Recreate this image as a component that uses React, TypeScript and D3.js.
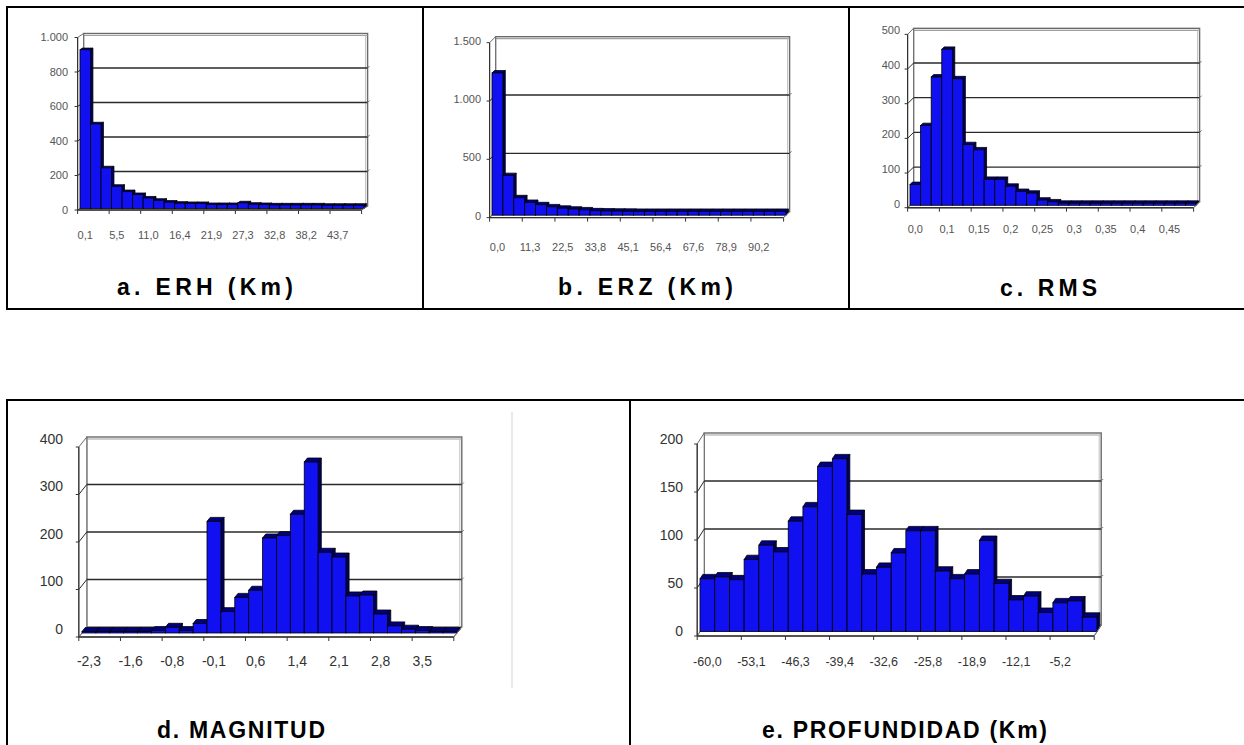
import React from "react";
import * as d3 from "d3";

// ---------- DATA ----------
const erhValues = [920, 490, 235, 128, 97, 80, 60, 47, 36, 30, 28, 28, 22, 22, 22, 32, 24, 22, 20, 20, 20, 20, 20, 18, 18, 18, 18];
const erhLabels = ["0,1", "5,5", "11,0", "16,4", "21,9", "27,3", "32,8", "38,2", "43,7"];
const erhTicks = [0, 200, 400, 600, 800, 1000];

const erzValues = [1220, 340, 150, 110, 90, 72, 60, 52, 46, 38, 36, 35, 34, 33, 33, 33, 33, 33, 33, 33, 33, 33, 33, 33, 33, 33, 33];
const erzLabels = ["0,0", "11,3", "22,5", "33,8", "45,1", "56,4", "67,6", "78,9", "90,2"];
const erzTicks = [0, 500, 1000, 1500];

const rmsValues = [60, 230, 370, 450, 365, 175, 160, 75, 75, 55, 40, 35, 15, 10, 6, 6, 6, 6, 6, 6, 6, 6, 6, 6, 6, 6, 6];
const rmsLabels = ["0,0", "0,1", "0,15", "0,2", "0,25", "0,3", "0,35", "0,4", "0,45"];
const rmsTicks = [0, 100, 200, 300, 400, 500];

const magValues = [3, 3, 3, 3, 3, 5, 12, 5, 20, 235, 45, 75, 90, 200, 205, 250, 360, 170, 160, 78, 80, 40, 15, 8, 5, 3, 3];
const magLabels = ["-2,3", "-1,6", "-0,8", "-0,1", "0,6", "1,4", "2,1", "2,8", "3,5"];
const magTicks = [0, 100, 200, 300, 400];

const profValues = [55, 57, 54, 75, 90, 83, 115, 130, 172, 180, 122, 60, 67, 82, 105, 105, 63, 55, 60, 95, 50, 33, 37, 20, 30, 32, 15];
const profLabels = ["-60,0", "-53,1", "-46,3", "-39,4", "-32,6", "-25,8", "-18,9", "-12,1", "-5,2"];
const profTicks = [0, 50, 100, 150, 200];

const titles = ["a. ERH (Km)", "b. ERZ (Km)", "c. RMS", "d. MAGNITUD", "e. PROFUNDIDAD (Km)"];

// ---------- COMPONENTS ----------
const FONT = "Arial, 'Liberation Sans', sans-serif";

function fmtTick(v: number) {
  return v >= 1000 ? d3.format(",")(v).replace(/,/g, ".") : String(v);
}

type PanelProps = {
  values: number[];
  labels: string[];
  ticks: number[];
  fx0: number;
  fx1: number;
  y0: number;
  k: number;
  dx: number;
  dy: number;
  labelRight: number;
  labelOffset: number;
  xLabelY: number;
  yFont: number;
  xFont: number;
  textColor: string;
  floorFill?: string;
};

function Panel(p: PanelProps) {
  const n = p.values.length;
  const max = p.ticks[p.ticks.length - 1];
  const x = d3.scaleBand<number>().domain(d3.range(n)).range([p.fx0, p.fx1]).padding(0);
  const y = d3.scaleLinear().domain([0, max]).range([p.y0, p.y0 - max * p.k]);
  const bw = x.bandwidth();
  const { dx, dy } = p;
  const yTop = y(max);
  const ox = dx * 0.4;
  const oy = dy * 0.4;
  const wallStroke = "#6a6a6a";

  return (
    <g>
      {/* floor */}
      <polygon
        points={`${p.fx0},${p.y0 + dy} ${p.fx1},${p.y0 + dy} ${p.fx1 + dx},${p.y0} ${p.fx0 + dx},${p.y0}`}
        fill={p.floorFill || "#fff"}
        stroke={wallStroke}
        strokeWidth={1}
      />
      {/* back wall */}
      <rect x={p.fx0 + dx} y={yTop} width={p.fx1 - p.fx0} height={p.y0 - yTop} fill="#fff" stroke={wallStroke} strokeWidth={1.4} />
      <line x1={p.fx0 + dx} x2={p.fx1 + dx} y1={yTop + 2} y2={yTop + 2} stroke="#a0a0a0" strokeWidth={1.2} />
      <line x1={p.fx1 + dx - 2} x2={p.fx1 + dx - 2} y1={yTop + 2} y2={p.y0} stroke="#c0c0c0" strokeWidth={1} />
      {/* left wall */}
      <polygon
        points={`${p.fx0},${p.y0 + dy} ${p.fx0},${yTop + dy} ${p.fx0 + dx},${yTop} ${p.fx0 + dx},${p.y0}`}
        fill="#fff"
        stroke={wallStroke}
        strokeWidth={1}
      />
      {/* gridlines */}
      {p.ticks.slice(1, -1).map((t) => (
        <g key={"g" + t}>
          <line x1={p.fx0 + dx} x2={p.fx1 + dx} y1={y(t)} y2={y(t)} stroke="#2a2a2a" strokeWidth={1.3} />
          <line x1={p.fx0} x2={p.fx0 + dx} y1={y(t) + dy} y2={y(t)} stroke="#2a2a2a" strokeWidth={1} />
          <line x1={p.fx1 + dx} x2={p.fx1 + dx + 2} y1={y(t)} y2={y(t) - 2} stroke="#777" strokeWidth={1} />
        </g>
      ))}
      {/* bars */}
      {p.values.map((v, i) => {
        const bx = (x(i) as number) + ox;
        const top = y(v) + dy * 0.6;
        const bottom = p.y0 + dy * 0.6;
        return (
          <g key={"b" + i}>
            <polygon
              points={`${bx + bw},${top} ${bx + bw + ox},${top - oy} ${bx + bw + ox},${bottom - oy} ${bx + bw},${bottom}`}
              fill="#000060"
              stroke="#000"
              strokeWidth={0.8}
            />
            <polygon
              points={`${bx},${top} ${bx + bw},${top} ${bx + bw + ox},${top - oy} ${bx + ox},${top - oy}`}
              fill="#000080"
              stroke="#000"
              strokeWidth={0.8}
            />
            <rect x={bx} y={top} width={bw} height={bottom - top} fill="#1010f0" stroke="#000" strokeWidth={0.8} />
          </g>
        );
      })}
      {/* axes */}
      <line x1={p.fx0} x2={p.fx1} y1={p.y0 + dy} y2={p.y0 + dy} stroke="#333" strokeWidth={1.4} />
      <line x1={p.fx1} x2={p.fx1 + dx} y1={p.y0 + dy} y2={p.y0} stroke="#777" strokeWidth={1} />
      <line x1={p.fx0} x2={p.fx0} y1={p.y0 + dy} y2={yTop + dy} stroke="#333" strokeWidth={1.2} />
      {d3.range(0, n + 1, 3).map((j) => {
        const tx = p.fx0 + j * bw;
        return <line key={"xt" + j} x1={tx} x2={tx} y1={p.y0 + dy} y2={p.y0 + dy + 4} stroke="#333" strokeWidth={1} />;
      })}
      {p.ticks.map((t) => (
        <line key={"yt" + t} x1={p.fx0 - 3} x2={p.fx0} y1={y(t) + dy} y2={y(t) + dy} stroke="#333" strokeWidth={1} />
      ))}
      {/* labels */}
      {p.ticks.map((t) => (
        <text
          key={"yl" + t}
          x={p.labelRight}
          y={y(t) + p.labelOffset}
          textAnchor="end"
          dominantBaseline="middle"
          fontFamily={FONT}
          fontSize={p.yFont}
          fill={p.textColor}
        >
          {fmtTick(t)}
        </text>
      ))}
      {p.labels.map((l, j) => {
        const i = j * 3;
        const cx = (x(i) as number) + ox + bw / 2;
        return (
          <text
            key={"xl" + j}
            x={cx}
            y={p.xLabelY}
            textAnchor="middle"
            dominantBaseline="middle"
            fontFamily={FONT}
            fontSize={p.xFont}
            fill={p.textColor}
          >
            {l}
          </text>
        );
      })}
    </g>
  );
}

function Title({ text, x0, x1, y }: { text: string; x0: number; x1: number; y: number }) {
  return (
    <text
      x={x0}
      y={y}
      fontFamily={FONT}
      fontWeight="bold"
      fontSize={23}
      fill="#000"
      textLength={x1 - x0}
      lengthAdjust="spacing"
    >
      {text}
    </text>
  );
}

export default function App() {
  return (
    <div style={{ position: "fixed", left: 0, top: 0, width: 1244, height: 745, background: "#fff" }}>
      <svg width={1244} height={745} style={{ display: "block" }}>
        <rect x={0} y={0} width={1244} height={745} fill="#fff" />
        {/* table frames */}
        <rect x={7} y={7} width={1250} height={302} fill="none" stroke="#000" strokeWidth={2} />
        <line x1={423} x2={423} y1={7} y2={309} stroke="#000" strokeWidth={2} />
        <line x1={849} x2={849} y1={7} y2={309} stroke="#000" strokeWidth={2} />
        <rect x={7} y={400} width={1250} height={360} fill="none" stroke="#000" strokeWidth={2} />
        <line x1={630} x2={630} y1={400} y2={760} stroke="#000" strokeWidth={2} />
        <line x1={512} x2={512} y1={412} y2={688} stroke="#e2e2e2" strokeWidth={1.5} />

        <Panel values={erhValues} labels={erhLabels} ticks={erhTicks}
          fx0={77.6} fx1={361.6} y0={206} k={0.1725} dx={6} dy={4}
          labelRight={68} labelOffset={5} xLabelY={236} yFont={11} xFont={11} textColor="#555" floorFill="#dcdcf2" />
        <Panel values={erzValues} labels={erzLabels} ticks={erzTicks}
          fx0={489.6} fx1={783.6} y0={211.6} k={0.1166} dx={6} dy={6}
          labelRight={481} labelOffset={5} xLabelY={248} yFont={11} xFont={11} textColor="#555" />
        <Panel values={rmsValues} labels={rmsLabels} ticks={rmsTicks}
          fx0={907.6} fx1={1193.6} y0={201.7} k={0.3467} dx={6} dy={6}
          labelRight={900} labelOffset={3} xLabelY={230} yFont={11} xFont={11} textColor="#555" />
        <Panel values={magValues} labels={magLabels} ticks={magTicks}
          fx0={78.8} fx1={453.8} y0={627} k={0.475} dx={8} dy={10}
          labelRight={63} labelOffset={3} xLabelY={662} yFont={14} xFont={14} textColor="#333" />
        <Panel values={profValues} labels={profLabels} ticks={profTicks}
          fx0={697.2} fx1={1094.2} y0={625} k={0.96} dx={7} dy={11}
          labelRight={683} labelOffset={7} xLabelY={663} yFont={14} xFont={12.5} textColor="#333" />

        <Title text={titles[0]} x0={117} x1={293} y={295} />
        <Title text={titles[1]} x0={558} x1={733} y={295} />
        <Title text={titles[2]} x0={1000} x1={1097} y={296} />
        <Title text={titles[3]} x0={157} x1={325} y={738} />
        <Title text={titles[4]} x0={762} x1={1047} y={738} />
      </svg>
    </div>
  );
}
